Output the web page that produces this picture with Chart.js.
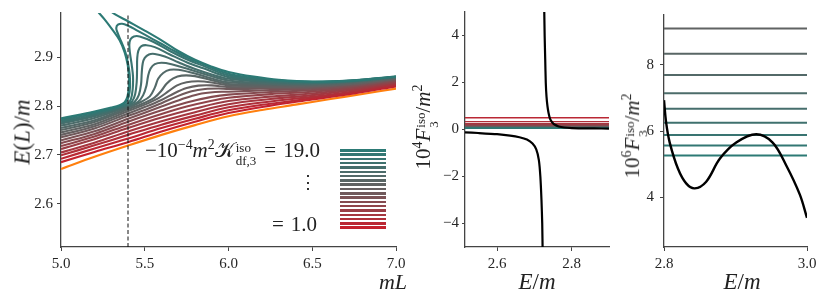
<!DOCTYPE html>
<html><head><meta charset="utf-8">
<script src="https://cdn.jsdelivr.net/npm/chart.js@4.4.1/dist/chart.umd.min.js"></script>
<style>
html,body{margin:0;padding:0;background:#fff;}
body{width:822px;height:301px;position:relative;overflow:hidden;font-family:'Liberation Serif','Times New Roman',serif;color:#222;}
canvas{position:absolute;top:0;}
.t{position:absolute;white-space:nowrap;line-height:1;}
.rot{position:absolute;white-space:nowrap;line-height:1;transform:translate(-50%,-50%) rotate(-90deg);}
.ctr{transform:translate(-50%,-50%);}
sup{font-size:0.66em;vertical-align:0.55em;line-height:0;}
.ss{display:inline-flex;flex-direction:column;font-size:0.62em;line-height:1.05;vertical-align:0.42em;margin-left:1px;}
.eq{margin:0 7px 0 8px;}
i{font-style:italic;}
.bar{position:absolute;height:2.6px;width:46px;left:340px;}
</style></head>
<body>
<canvas id="c1" width="410" height="301" style="left:0"></canvas>
<canvas id="c2" width="210" height="301" style="left:410px"></canvas>
<canvas id="c3" width="202" height="301" style="left:620px"></canvas>

<div class="rot" style="left:22px;top:132px;font-size:23px"><i>E</i>(<i>L</i>)/<i>m</i></div>
<div class="t ctr" style="left:393px;top:282px;font-size:22px"><i>mL</i></div>
<div class="rot" style="left:427px;top:127px;font-size:21px">10<sup>4</sup><i>F</i><span class="ss"><span>iso</span><span>3</span></span>/<i>m</i><sup>2</sup></div>
<div class="t ctr" style="left:537px;top:281px;font-size:23px"><i>E</i>/<i>m</i></div>
<div class="rot" style="left:636px;top:136px;font-size:21px">10<sup>6</sup><i>F</i><span class="ss"><span>iso</span><span>3</span></span>/<i>m</i><sup>2</sup></div>
<div class="t ctr" style="left:742px;top:281px;font-size:23px"><i>E</i>/<i>m</i></div>

<div class="t" style="left:145px;top:140px;font-size:21px">−10<sup>−4</sup><i>m</i><sup>2</sup>𝒦<span class="ss"><span>iso</span><span>df,3</span></span><span class="eq">=</span>19.0</div>
<div class="t" style="left:299px;top:173px;font-size:18px">⋮</div>
<div class="t" style="left:272px;top:214px;font-size:21px"><span class="eq" style="margin-left:0">=</span>1.0</div>
<div id="bars"></div>

<script>
// ---------- data ----------
const kValues = [1,2,3,4,5,6,7,8,9,10,11,12,13,14,15,16,17,18,19];
const dashedL = 5.4;

// panel 1: E(L)/m versus mL, one curve per K
const curveOrange = [[5.0,2.671],[5.2,2.696],[5.4,2.719],[5.6,2.741],[5.8,2.761],[6.0,2.779],[6.2,2.792],[6.4,2.803],[6.6,2.814],[6.8,2.825],[7.0,2.836]];
const curveK1 = [[5.0,2.685],[5.2,2.706],[5.4,2.726],[5.6,2.748],[5.8,2.768],[6.0,2.786],[6.25,2.801],[6.5,2.8135],[6.75,2.826],[7.0,2.8405]];
const curveK2 = [[5.0,2.692],[5.2,2.713],[5.4,2.7335],[5.6,2.755],[5.8,2.774],[6.0,2.7915],[6.25,2.805],[6.5,2.816],[6.75,2.8282],[7.0,2.8425]];
const curveK3 = [[5.0,2.699],[5.2,2.7195],[5.4,2.741],[5.6,2.762],[5.8,2.7805],[6.0,2.7975],[6.25,2.8095],[6.5,2.819],[6.75,2.8305],[7.0,2.8445]];
const curveK4 = [[5.0,2.705],[5.2,2.725],[5.4,2.748],[5.6,2.769],[5.8,2.7875],[6.0,2.804],[6.25,2.8145],[6.5,2.8225],[6.75,2.833],[7.0,2.8465]];
const curveK5 = [[5.0,2.712],[5.2,2.732],[5.4,2.755],[5.6,2.7765],[5.8,2.795],[6.0,2.8105],[6.25,2.8195],[6.5,2.826],[6.75,2.8355],[7.0,2.8485]];
const curveK6 = [[5.0,2.718],[5.2,2.7375],[5.4,2.7615],[5.6,2.784],[5.75,2.799],[5.9,2.811],[6.0,2.817],[6.25,2.8245],[6.5,2.8295],[6.75,2.838],[7.0,2.8503]];
const curveK7 = [[5.0,2.724],[5.2,2.743],[5.4,2.768],[5.6,2.7915],[5.75,2.8075],[5.9,2.819],[6.0,2.8235],[6.25,2.829],[6.5,2.8327],[6.75,2.8403],[7.0,2.852]];
const curveK8 = [[5.0,2.730],[5.2,2.7485],[5.4,2.774],[5.6,2.799],[5.72,2.814],[5.82,2.8245],[5.92,2.829],[6.0,2.8295],[6.25,2.833],[6.5,2.8355],[6.75,2.8425],[7.0,2.8536]];
const curveK9 = [[5.0,2.736],[5.2,2.754],[5.4,2.780],[5.5,2.792],[5.6,2.806],[5.7,2.821],[5.78,2.8305],[5.86,2.835],[5.94,2.836],[6.0,2.835],[6.25,2.8365],[6.5,2.838],[6.75,2.8443],[7.0,2.855]];
const curveK10 = [[5.0,2.741],[5.2,2.7585],[5.4,2.785],[5.5,2.798],[5.6,2.8125],[5.68,2.827],[5.75,2.837],[5.82,2.842],[5.9,2.8425],[6.0,2.839],[6.25,2.8395],[6.5,2.8402],[6.75,2.846],[7.0,2.8563]];
const curveK11 = [[5.0,2.746],[5.2,2.763],[5.4,2.7895],[5.5,2.803],[5.58,2.816],[5.64,2.83],[5.69,2.842],[5.75,2.849],[5.82,2.851],[5.9,2.8485],[6.0,2.8425],[6.25,2.8418],[6.5,2.842],[6.75,2.8475],[7.0,2.8574]];
const curveK12 = [[5.0,2.751],[5.2,2.7675],[5.4,2.7935],[5.5,2.807],[5.56,2.818],[5.6,2.832],[5.63,2.846],[5.67,2.857],[5.72,2.8625],[5.8,2.8615],[5.9,2.853],[6.0,2.8455],[6.25,2.8437],[6.5,2.8436],[6.75,2.8487],[7.0,2.8583]];
const curveK13 = [[5.0,2.755],[5.2,2.771],[5.4,2.797],[5.48,2.809],[5.53,2.82],[5.56,2.838],[5.58,2.856],[5.61,2.868],[5.65,2.8745],[5.7,2.8745],[5.8,2.867],[5.9,2.8565],[6.0,2.849],[6.25,2.8455],[6.5,2.845],[6.75,2.8497],[7.0,2.859]];
const curveK14 = [[5.0,2.760],[5.2,2.7755],[5.4,2.7995],[5.46,2.809],[5.49,2.822],[5.51,2.842],[5.52,2.862],[5.535,2.877],[5.56,2.886],[5.6,2.889],[5.66,2.886],[5.75,2.877],[5.85,2.8665],[6.0,2.8525],[6.25,2.8472],[6.5,2.8462],[6.75,2.8505],[7.0,2.8594]];
const curveK15 = [[5.0,2.764],[5.2,2.779],[5.4,2.8015],[5.44,2.809],[5.465,2.823],[5.478,2.845],[5.482,2.868],[5.488,2.888],[5.5,2.899],[5.525,2.906],[5.56,2.907],[5.62,2.902],[5.7,2.89],[5.8,2.876],[5.9,2.865],[6.0,2.856],[6.25,2.849],[6.5,2.8473],[6.75,2.8512],[7.0,2.8598]];
const curveK16 = [[5.0,2.767],[5.2,2.7818],[5.4,2.8035],[5.425,2.81],[5.443,2.825],[5.452,2.85],[5.454,2.875],[5.455,2.898],[5.462,2.914],[5.48,2.923],[5.51,2.925],[5.56,2.921],[5.65,2.906],[5.75,2.89],[5.85,2.8775],[6.0,2.8595],[6.25,2.8507],[6.5,2.8482],[6.75,2.8518],[7.0,2.8601]];
const curveK17 = [[5.0,2.770],[5.2,2.7845],[5.35,2.798],[5.4,2.8055],[5.418,2.815],[5.428,2.835],[5.43,2.86],[5.422,2.885],[5.412,2.908],[5.408,2.926],[5.415,2.937],[5.435,2.943],[5.47,2.943],[5.55,2.932],[5.65,2.913],[5.75,2.896],[5.85,2.8825],[6.0,2.863],[6.25,2.8524],[6.5,2.849],[6.75,2.8523],[7.0,2.8603]];
const curveK18 = [[5.0,2.773],[5.2,2.7872],[5.3,2.795],[5.36,2.802],[5.39,2.809],[5.405,2.82],[5.412,2.84],[5.41,2.865],[5.40,2.888],[5.385,2.91],[5.36,2.932],[5.338,2.95],[5.33,2.96],[5.34,2.967],[5.365,2.969],[5.40,2.965],[5.45,2.956],[5.55,2.937],[5.65,2.918],[5.75,2.9],[5.85,2.886],[6.0,2.8665],[6.25,2.854],[6.5,2.8497],[6.75,2.8527],[7.0,2.8605]];
const curveK19a = [[5.0,2.775],[5.2,2.789],[5.3,2.797],[5.35,2.802],[5.38,2.808],[5.397,2.82],[5.405,2.84],[5.405,2.862],[5.398,2.885],[5.38,2.91],[5.35,2.935],[5.30,2.96],[5.26,2.978],[5.227,2.991],[5.21,2.998]];
const curveK19b = [[5.295,2.998],[5.31,2.991],[5.4,2.974],[5.5,2.955],[5.6,2.935],[5.7,2.913],[5.8,2.895],[5.9,2.881],[6.0,2.870],[6.15,2.8605],[6.3,2.854],[6.5,2.8505],[6.75,2.853],[7.0,2.8607]];

// panel 2: 10^4 F3 versus E/m at mL = 5.4
const f3LowerBranch = [[2.514,-0.12],[2.55,-0.15],[2.6,-0.2],[2.635,-0.26],[2.66,-0.33],[2.68,-0.43],[2.695,-0.6],[2.705,-0.85],[2.712,-1.3],[2.716,-2.0],[2.719,-3.0],[2.721,-4.0],[2.7222,-5.3]];
const f3UpperBranch = [[2.7262,5.3],[2.7275,4.0],[2.729,3.0],[2.7305,2.0],[2.7325,1.4],[2.735,1.0],[2.738,0.7],[2.742,0.45],[2.748,0.3],[2.755,0.2],[2.765,0.13],[2.78,0.085],[2.8,0.06],[2.83,0.05],[2.86,0.045],[2.9,0.04]];
const hlineK2 = [2,3,4,5,6,7,8,9,10,11,12,13,14,15,16,17,18,19];
const hlineF3x4 = [0.5,0.333,0.25,0.2,0.167,0.143,0.125,0.111,0.1,0.0909,0.0833,0.0769,0.0714,0.0667,0.0625,0.0588,0.0556,0.0526];

// panel 3: 10^6 F3 versus E/m
const f3Zoom = [[2.8,6.93],[2.803,6.25],[2.808,5.65],[2.8196,4.86],[2.831,4.42],[2.843,4.27],[2.859,4.47],[2.878,5.16],[2.901,5.65],[2.929,5.9],[2.952,5.65],[2.971,4.96],[2.99,4.08],[3.0,3.38]];
const hlineK3 = [11,12,13,14,15,16,17,18,19];
const hlineF3x6 = [9.09,8.33,7.69,7.14,6.67,6.25,5.88,5.56,5.26];

// axes
const xRange1 = [5.0, 7.0], yRange1 = [2.511, 2.991];
const xTicks1 = [5.0, 5.5, 6.0, 6.5, 7.0], yTicks1 = [2.6, 2.7, 2.8, 2.9];
const xRange2 = [2.514, 2.9], yRange2 = [-5, 5];
const xTicks2 = [2.6, 2.8], yTicks2 = [-4, -2, 0, 2, 4];
const xRange3 = [2.8, 3.0], yRange3 = [2.5, 9.5];
const xTicks3 = [2.8, 3.0], yTicks3 = [4, 6, 8];

// ---------- styling ----------
const RED = [196, 33, 46], MID = [102, 96, 97], TEAL = [44, 122, 117];
function kColor(k) {
  const t = (k - 1) / 18;
  let a, b, u;
  if (t < 0.5) { a = RED; b = MID; u = t * 2; } else { a = MID; b = TEAL; u = (t - 0.5) * 2; }
  const c = a.map((v, i) => Math.round(v + (b[i] - v) * u));
  return `rgb(${c[0]},${c[1]},${c[2]})`;
}
const pts = arr => arr.map(p => ({x: p[0], y: p[1]}));
function lineDs(arr, color, width, extra) {
  return Object.assign({data: pts(arr), showLine: true, borderColor: color, backgroundColor: color,
    borderWidth: width, pointRadius: 0, pointHoverRadius: 0, tension: 0.35, clip: 0, fill: false}, extra || {});
}

Chart.defaults.font.family = "'Liberation Serif','Times New Roman',serif";
Chart.defaults.font.size = 15;
Chart.defaults.color = '#262626';
Chart.defaults.animation = false;

const fmt1 = v => Number(v).toFixed(1);
const fmtInt = v => (v < 0 ? '\u2212' : '') + Math.abs(v).toFixed(0);

function makeScale(axis, range, ticks, fmt, size, tickLen, pad) {
  return {
    type: 'linear', min: range[0], max: range[1],
    grid: {drawOnChartArea: false, drawTicks: true, tickLength: tickLen, color: '#444', tickWidth: 1},
    border: {display: true, color: '#444', width: 1.3},
    ticks: {padding: pad, autoSkip: false, maxRotation: 0, callback: fmt},
    afterBuildTicks: s => { s.ticks = ticks.map(v => ({value: v})); },
    afterFit: s => { if (axis === 'x') s.height = size; else s.width = size; }
  };
}
function baseOptions(padding, scales) {
  return {responsive: false, animation: false, layout: {padding: padding},
    plugins: {legend: {display: false}, tooltip: {enabled: false}}, events: [], scales: scales};
}

// ---------- panel 1 ----------
const curves1 = {1:curveK1,2:curveK2,3:curveK3,4:curveK4,5:curveK5,6:curveK6,7:curveK7,8:curveK8,9:curveK9,10:curveK10,
  11:curveK11,12:curveK12,13:curveK13,14:curveK14,15:curveK15,16:curveK16,17:curveK17,18:curveK18};
const ds1 = [];
ds1.push(lineDs([[dashedL, yRange1[0]], [dashedL, yRange1[1]]], '#111', 1, {borderDash: [4, 2.5], tension: 0}));
ds1.push(lineDs(curveK19a, kColor(19), 2.1));
ds1.push(lineDs(curveK19b, kColor(19), 2.1));
for (let i = kValues.length - 2; i >= 0; i--) {
  const k = kValues[i];
  ds1.push(lineDs(curves1[k], kColor(k), 2.1));
}
ds1.push(lineDs(curveOrange, '#ff7f0e', 2.1));
new Chart(document.getElementById('c1'), {type: 'scatter', data: {datasets: ds1},
  options: baseOptions({top: 10, right: 14, left: 0, bottom: 0}, {
    x: makeScale('x', xRange1, xTicks1, fmt1, 54, 4, 4),
    y: makeScale('y', yRange1, yTicks1, fmt1, 61, 4, 4)
  })});

// legend bars
const barsEl = document.getElementById('bars');
for (let i = 0; i < kValues.length; i++) {
  const k = kValues[kValues.length - 1 - i];
  const d = document.createElement('div');
  d.className = 'bar';
  d.style.top = (149 + i * 4.3) + 'px';
  d.style.background = kColor(k);
  barsEl.appendChild(d);
}

// ---------- panel 2 ----------
const ds2 = [];
ds2.push(lineDs(f3UpperBranch, '#000', 2.2, {tension: 0.2}));
ds2.push(lineDs(f3LowerBranch, '#000', 2.2, {tension: 0.2}));
for (let i = hlineK2.length - 1; i >= 0; i--) {
  ds2.push(lineDs([[xRange2[0], hlineF3x4[i]], [xRange2[1], hlineF3x4[i]]], kColor(hlineK2[i]), 1.4, {tension: 0}));
}
new Chart(document.getElementById('c2'), {type: 'scatter', data: {datasets: ds2},
  options: baseOptions({top: 10, right: 11, left: 0, bottom: 0}, {
    x: makeScale('x', xRange2, xTicks2, fmt1, 54, 4, 4),
    y: makeScale('y', yRange2, yTicks2, fmtInt, 55, 3, 3)
  })});

// ---------- panel 3 ----------
const ds3 = [];
ds3.push(lineDs(f3Zoom, '#000', 2.4, {tension: 0.35}));
for (let i = hlineK3.length - 1; i >= 0; i--) {
  ds3.push(lineDs([[xRange3[0], hlineF3x6[i]], [xRange3[1], hlineF3x6[i]]], kColor(hlineK3[i]), 2, {tension: 0}));
}
new Chart(document.getElementById('c3'), {type: 'scatter', data: {datasets: ds3},
  options: baseOptions({top: 10, right: 15, left: 0, bottom: 0}, {
    x: makeScale('x', xRange3, xTicks3, fmt1, 54, 4, 4),
    y: makeScale('y', yRange3, yTicks3, fmtInt, 44, 4, 6)
  })});
</script>
</body></html>
